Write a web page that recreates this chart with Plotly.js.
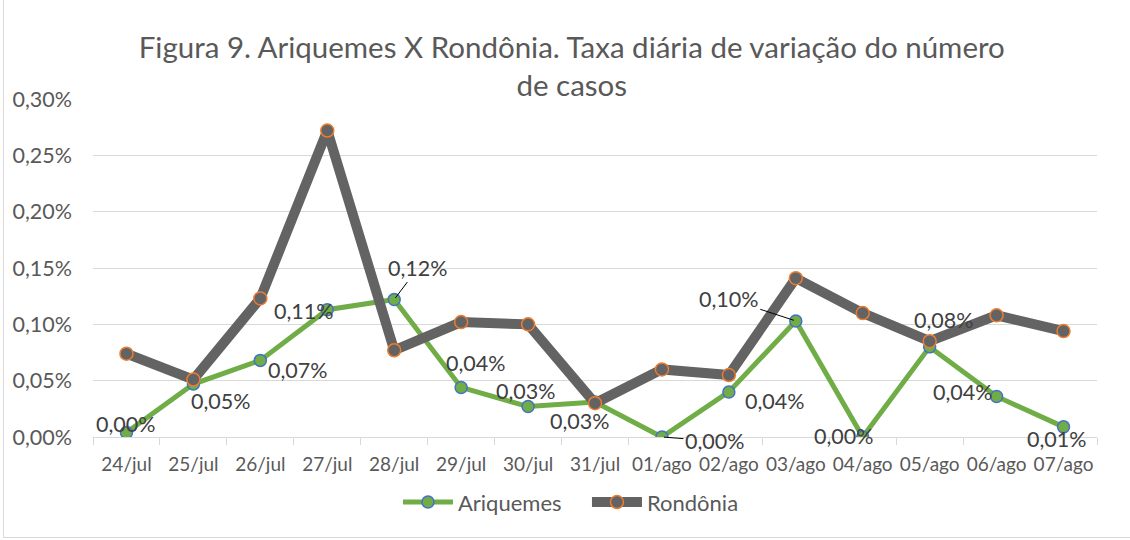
<!DOCTYPE html>
<html>
<head>
<meta charset="utf-8">
<script src="https://cdn.plot.ly/plotly-3.0.1.min.js"></script>
<style>
  html, body { margin: 0; padding: 0; background: #fff; }
  #wrap { position: relative; width: 1130px; height: 540px; }
  #chart { width: 1130px; height: 540px; }
  #frame { position: absolute; left: 3px; top: -2px; width: 1130px; height: 540px; border: 1px solid #d9d9d9; box-sizing: border-box; pointer-events: none; }
</style>
</head>
<body>
<div id="wrap"><div id="chart"></div><div id="frame"></div></div>
<script>
const categories = ["24/jul","25/jul","26/jul","27/jul","28/jul","29/jul","30/jul","31/jul","01/ago","02/ago","03/ago","04/ago","05/ago","06/ago","07/ago"];
// values in percent units (0.27 means 0,27%)
const ariquemes = [0.004, 0.047, 0.068, 0.113, 0.122, 0.044, 0.027, 0.031, 0.000, 0.040, 0.103, 0.000, 0.080, 0.036, 0.009];
const rondonia  = [0.074, 0.051, 0.123, 0.272, 0.077, 0.102, 0.100, 0.030, 0.060, 0.055, 0.141, 0.110, 0.085, 0.108, 0.094];
const yTicks = [0, 0.05, 0.10, 0.15, 0.20, 0.25, 0.30];

// label offsets (px) for Ariquemes data labels; leader = draw a leader line
const labelPos = [
  {dx: 0,   dy: -8,  leader: false},
  {dx: 28,  dy: 17,  leader: false},
  {dx: 38,  dy: 10,  leader: false},
  {dx: -23, dy: 1,   leader: false},
  {dx: 24,  dy: -32, leader: true},
  {dx: 15,  dy: -24, leader: false},
  {dx: -2,  dy: -16, leader: false},
  {dx: -15, dy: 19,  leader: false},
  {dx: 53,  dy: 4,   leader: true},
  {dx: 46,  dy: 9,   leader: false},
  {dx: -67, dy: -22, leader: true},
  {dx: -19, dy: -1,  leader: false},
  {dx: 14,  dy: -27, leader: false},
  {dx: -34, dy: -4,  leader: false},
  {dx: -7,  dy: 12,  leader: false}
];

const fmt = v => v.toFixed(2).replace('.', ',') + '%';
const FONT = 'Lato, "Liberation Sans", sans-serif';

const annotations = ariquemes.map((v, i) => {
  const p = labelPos[i];
  const base = {
    x: categories[i], y: v, xref: 'x', yref: 'y',
    text: fmt(v),
    font: {family: FONT, size: 21.5, color: '#404040'}
  };
  if (p.leader) {
    return Object.assign(base, {
      showarrow: true, arrowhead: 0, arrowwidth: 1, arrowcolor: '#000',
      ax: p.dx, ay: p.dy, standoff: 2
    });
  }
  return Object.assign(base, {showarrow: false, xshift: p.dx, yshift: -p.dy});
});

const traces = [
  {
    x: categories, y: ariquemes, name: 'Ariquemes', type: 'scatter', mode: 'lines+markers',
    line: {color: '#70AD47', width: 5},
    marker: {size: 12, color: '#70AD47', line: {color: '#4472C4', width: 1.5}}
  },
  {
    x: categories, y: rondonia, name: 'Rondônia', type: 'scatter', mode: 'lines+markers',
    line: {color: '#636363', width: 10},
    marker: {size: 13, color: '#636363', line: {color: '#ED7D31', width: 1.5}}
  }
];

const layout = {
  width: 1130, height: 540,
  margin: {l: 93, r: 33, t: 99, b: 102.5},
  paper_bgcolor: '#fff', plot_bgcolor: '#fff',
  separators: ',.',
  title: {
    text: 'Figura 9. Ariquemes X Rondônia. Taxa diária de variação do número<br>de casos',
    font: {family: FONT, size: 29.5, color: '#595959'},
    x: 0.506, xanchor: 'center', y: 0.893, yanchor: 'top', yref: 'container'
  },
  xaxis: {
    type: 'category', range: [-0.5, 14.5],
    showgrid: false, showline: true, linecolor: '#d9d9d9', linewidth: 1,
    ticks: 'outside', tickson: 'boundaries', ticklen: 7, tickcolor: '#d9d9d9',
    ticklabelstandoff: 10, tickangle: 0,
    tickfont: {family: FONT, size: 19, color: '#595959'}, fixedrange: true
  },
  yaxis: {
    range: [0, 0.30], tickvals: yTicks, ticktext: yTicks.map(fmt),
    showgrid: true, gridcolor: '#d9d9d9', gridwidth: 1, zeroline: false,
    showline: false, ticks: '', ticklen: 0, ticklabelstandoff: 20,
    tickfont: {family: FONT, size: 21.5, color: '#595959'}
  },
  legend: {
    orientation: 'h', x: 0.492, xanchor: 'center', y: -0.193, yanchor: 'middle',
    font: {family: FONT, size: 22, color: '#595959'},
    itemwidth: 50, entrywidth: 124, traceorder: 'normal'
  },
  showlegend: true,
  annotations: annotations
};

Plotly.newPlot('chart', traces, layout, {displayModeBar: false, staticPlot: true});
</script>
</body>
</html>
